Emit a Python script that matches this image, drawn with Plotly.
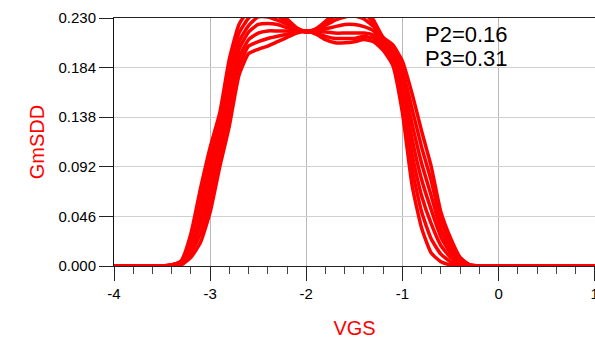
import plotly.graph_objects as go

# VGS sweep points (V)
vgs = [-4.0, -3.5, -3.4, -3.3, -3.2, -3.1, -3.0, -2.9, -2.8, -2.7, -2.6,
       -2.5, -2.4, -2.3, -2.2, -2.1, -2.0, -1.9, -1.8, -1.7, -1.6, -1.5,
       -1.4, -1.3, -1.2, -1.1, -1.0, -0.9, -0.8, -0.7, -0.6, -0.5, -0.4,
       -0.3, -0.2, 1.0]

# GmSDD curves (one per swept parameter value)
gm_1 = [0, 0, 0.001, 0.005, 0.030, 0.072, 0.110, 0.142, 0.192, 0.224, 0.237,
        0.242, 0.241, 0.236, 0.229, 0.221, 0.217, 0.220, 0.227, 0.235, 0.242, 0.245,
        0.240, 0.228, 0.212, 0.205, 0.190, 0.160, 0.125, 0.092, 0.050, 0.026, 0.008,
        0.001, 0, 0]
gm_2 = [0, 0, 0.001, 0.004, 0.026, 0.064, 0.100, 0.134, 0.182, 0.216, 0.230,
        0.237, 0.236, 0.232, 0.226, 0.220, 0.217, 0.219, 0.225, 0.232, 0.237, 0.239,
        0.235, 0.225, 0.211, 0.203, 0.182, 0.146, 0.110, 0.079, 0.042, 0.021, 0.007,
        0.001, 0, 0]
gm_3 = [0, 0, 0.001, 0.004, 0.022, 0.055, 0.090, 0.125, 0.171, 0.208, 0.223,
        0.231, 0.231, 0.228, 0.224, 0.219, 0.217, 0.219, 0.223, 0.228, 0.231, 0.232,
        0.229, 0.222, 0.209, 0.200, 0.174, 0.132, 0.095, 0.065, 0.034, 0.016, 0.005,
        0.001, 0, 0]
gm_4 = [0, 0, 0.001, 0.003, 0.019, 0.047, 0.080, 0.117, 0.161, 0.201, 0.217,
        0.224, 0.225, 0.224, 0.221, 0.219, 0.217, 0.218, 0.220, 0.222, 0.224, 0.224,
        0.222, 0.218, 0.207, 0.196, 0.166, 0.118, 0.080, 0.052, 0.027, 0.012, 0.004,
        0.000, 0, 0]
gm_5 = [0, 0, 0.000, 0.002, 0.015, 0.039, 0.070, 0.109, 0.151, 0.193, 0.210,
        0.216, 0.218, 0.218, 0.218, 0.218, 0.218, 0.218, 0.217, 0.216, 0.216, 0.216,
        0.216, 0.214, 0.205, 0.193, 0.158, 0.104, 0.065, 0.039, 0.019, 0.008, 0.002,
        0, 0, 0]
gm_6 = [0, 0, 0, 0.002, 0.012, 0.030, 0.060, 0.100, 0.140, 0.185, 0.204,
        0.208, 0.211, 0.213, 0.215, 0.217, 0.218, 0.216, 0.213, 0.211, 0.211, 0.211,
        0.213, 0.211, 0.203, 0.190, 0.150, 0.090, 0.050, 0.025, 0.011, 0.004, 0.001,
        0, 0, 0]
gm_7 = [0, 0, 0, 0.001, 0.008, 0.022, 0.050, 0.092, 0.130, 0.177, 0.197,
        0.201, 0.204, 0.208, 0.212, 0.216, 0.218, 0.215, 0.210, 0.207, 0.207, 0.208,
        0.210, 0.208, 0.200, 0.186, 0.142, 0.075, 0.035, 0.012, 0.004, 0.001, 0,
        0, 0, 0]
curves = [gm_1, gm_2, gm_3, gm_4, gm_5, gm_6, gm_7]

y_ticks = [0.0, 0.046, 0.092, 0.138, 0.184, 0.230]
y_tick_text = ["0.000", "0.046", "0.092", "0.138", "0.184", "0.230"]
x_ticks = [-4, -3, -2, -1, 0, 1]
x_tick_text = ["-4", "-3", "-2", "-1", "0", "1"]
note_lines = ["P2=0.16", "P3=0.31"]

FONT = "Liberation Sans, Arial, sans-serif"

fig = go.Figure()
for c in curves:
    fig.add_trace(go.Scatter(x=vgs, y=c, mode="lines",
                             line=dict(color="#ff0000", width=3.5, shape="spline", smoothing=0.5),
                             showlegend=False, hoverinfo="skip"))

fig.update_layout(
    width=595, height=339,
    margin=dict(l=114, r=0, t=18, b=73),
    paper_bgcolor="white", plot_bgcolor="white",
    font=dict(family=FONT, size=15, color="black"),
    xaxis=dict(range=[-4, 1.003], tickvals=x_ticks, ticktext=x_tick_text,
               ticks="outside", ticklen=14, tickwidth=1, tickcolor="#222",
               ticklabeloverflow="allow", automargin=False,
               minor=dict(dtick=0.2, ticks="outside", ticklen=7, tickcolor="#444", showgrid=False),
               showline=True, linecolor="#222", linewidth=1, mirror=True,
               showgrid=True, gridcolor="#b8b8b8", gridwidth=1, zeroline=False,
               title=dict(text="VGS", font=dict(color="#ff0000", size=20), standoff=22),
               tickfont=dict(size=15)),
    yaxis=dict(range=[0, 0.230], tickvals=y_ticks, ticktext=y_tick_text,
               ticks="outside", ticklen=14, tickwidth=1, tickcolor="#222",
               automargin=False,
               showline=True, linecolor="#111", linewidth=1, mirror=True,
               showgrid=True, gridcolor="#d0d0d0", gridwidth=1, zeroline=False,
               title=dict(text="GmSDD", font=dict(color="#ff0000", size=20), standoff=8),
               tickfont=dict(size=15)),
)

for i, t in enumerate(note_lines):
    fig.add_annotation(text=t, xref="x", yref="paper", x=-0.785, y=0.932 - i * 0.097,
                       xanchor="left", yanchor="middle", showarrow=False,
                       font=dict(size=22, color="black", family=FONT))

fig.write_html("out.html")
